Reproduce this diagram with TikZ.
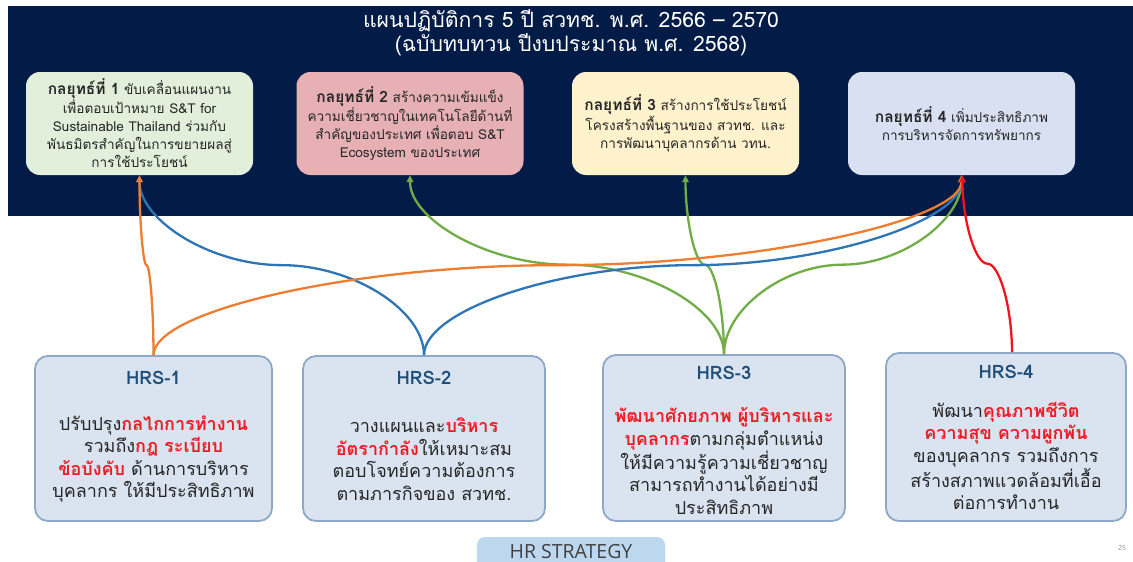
\documentclass[tikz,border=0pt]{standalone}
\usepackage{fontspec}
\newfontfamily\thaifont[Script=Thai]{Loma}
\newfontfamily\tabfont{Open Sans}
\usetikzlibrary{arrows.meta,calc}
\definecolor{navy}{HTML}{031C47}
\definecolor{sgreen}{HTML}{E2EFDA}
\definecolor{spink}{HTML}{E6B0B5}
\definecolor{scream}{HTML}{FEF2CC}
\definecolor{slav}{HTML}{D9E0F2}
\definecolor{hfill}{HTML}{DAE3F0}
\definecolor{hborder}{HTML}{8EA8C8}
\definecolor{hlabel}{HTML}{1F4E79}
\definecolor{txt}{HTML}{262626}
\definecolor{hot}{HTML}{EE1C25}
\definecolor{corange}{HTML}{ED7D31}
\definecolor{cblue}{HTML}{2E75B6}
\definecolor{cgreen}{HTML}{70AD47}
\definecolor{cred}{HTML}{F0141E}
\definecolor{tabfill}{HTML}{BDD7EE}
\newcommand{\hl}[1]{\textcolor{hot}{\bfseries #1}}
\tikzset{
  stratbox/.style={rounded corners=14pt, minimum width=227pt, minimum height=103pt, inner sep=0pt},
  strattext/.style={align=center, text=txt, font=\thaifont\fontsize{13.6}{18}\selectfont, inner sep=0pt},
  hrsbox/.style={rounded corners=13pt, fill=hfill, draw=hborder, line width=1.8pt, inner sep=0pt},
  hrslabel/.style={text=hlabel, font=\thaifont\bfseries\fontsize{18.5}{20}\selectfont, inner sep=0pt},
  hrstext/.style={align=center, text=txt, font=\thaifont\fontsize{18}{22.6}\selectfont, inner sep=0pt},
  curvecon/.style={line width=2.3pt, -{Triangle[length=7pt,width=6.5pt]},
    to path={let \p1=(\tikztostart), \p2=(\tikztotarget) in
      .. controls (\x1,{0.75*\y1+0.25*\y2}) and ({0.75*\x1+0.25*\x2},{0.5*\y1+0.5*\y2}) ..
      ({0.5*\x1+0.5*\x2},{0.5*\y1+0.5*\y2})
      .. controls ({0.25*\x1+0.75*\x2},{0.5*\y1+0.5*\y2}) and (\x2,{0.25*\y1+0.75*\y2}) .. (\tikztotarget)}}
}
\begin{document}
\begin{tikzpicture}[x=1pt,y=-1pt]
\useasboundingbox (0,0) rectangle (1133,562);
\fill[white] (0,0) rectangle (1133,562);
\fill[navy] (8,6) rectangle (1133,216);

% title
\node[align=center, text=white, font=\thaifont\fontsize{21.2}{23.5}\selectfont, inner sep=0pt] (title) at (571,33)
  {แผนปฏิบัติการ 5 ปี สวทช. พ.ศ. 2566 – 2570\\(ฉบับทบทวน ปีงบประมาณ พ.ศ. 2568)};

% strategy boxes
\node[stratbox, fill=sgreen] (s1) at (139.5,123.5) {};
\node[stratbox, fill=spink] (s2) at (410,123.5) {};
\node[stratbox, fill=scream] (s3) at (685.5,123.5) {};
\node[stratbox, fill=slav] (s4) at (961.5,123.5) {};

\node[strattext] (s1t) at (s1.center) {{\bfseries\fontsize{15.5}{18}\selectfont กลยุทธ์ที่ 1} ขับเคลื่อนแผนงาน\\เพื่อตอบเป้าหมาย S\&T for\\Sustainable Thailand ร่วมกับ\\พันธมิตรสำคัญในการขยายผลสู่\\การใช้ประโยชน์};
\node[strattext] (s2t) at (s2.center) {{\bfseries\fontsize{15.5}{18}\selectfont กลยุทธ์ที่ 2} สร้างความเข้มแข็ง\\ความเชี่ยวชาญในเทคโนโลยีด้านที่\\สำคัญของประเทศ เพื่อตอบ S\&T\\Ecosystem ของประเทศ};
\node[strattext] (s3t) at (s3.center) {{\bfseries\fontsize{15.5}{18}\selectfont กลยุทธ์ที่ 3} สร้างการใช้ประโยชน์\\โครงสร้างพื้นฐานของ สวทช. และ\\การพัฒนาบุคลากรด้าน วทน.};
\node[strattext] (s4t) at (s4.center) {{\bfseries\fontsize{15.5}{18}\selectfont กลยุทธ์ที่ 4} เพิ่มประสิทธิภาพ\\การบริหารจัดการทรัพยากร};

% HRS boxes
\node[hrsbox, minimum width=237pt, minimum height=165pt] (h1) at (153.5,438.5) {};
\node[hrsbox, minimum width=242pt, minimum height=165pt] (h2) at (424,438.5) {};
\node[hrsbox, minimum width=242pt, minimum height=166pt] (h3) at (724,438) {};
\node[hrsbox, minimum width=240pt, minimum height=168pt] (h4) at (1006,437) {};

\node[hrslabel] (h1l) at (153.5,378) {HRS-1};
\node[hrslabel] (h2l) at (424,378) {HRS-2};
\node[hrslabel] (h3l) at (724,373) {HRS-3};
\node[hrslabel] (h4l) at (1006,372) {HRS-4};

\node[hrstext] (h1b) at (153.5,459) {ปรับปรุง\hl{กลไกการทำงาน}\\รวมถึง\hl{กฎ ระเบียบ}\\\hl{ข้อบังคับ} ด้านการบริหาร\\บุคลากร ให้มีประสิทธิภาพ};
\node[hrstext] (h2b) at (424,459) {วางแผนและ\hl{บริหาร}\\\hl{อัตรากำลัง}ให้เหมาะสม\\ตอบโจทย์ความต้องการ\\ตามภารกิจของ สวทช.};
\node[hrstext] (h3b) at (724,461) {\hl{พัฒนาศักยภาพ ผู้บริหารและ}\\\hl{บุคลากร}ตามกลุ่มตำแหน่ง\\ให้มีความรู้ความเชี่ยวชาญ\\สามารถทำงานได้อย่างมี\\ประสิทธิภาพ};
\node[hrstext] (h4b) at (1006,456) {พัฒนา\hl{คุณภาพชีวิต}\\\hl{ความสุข ความผูกพัน}\\ของบุคลากร รวมถึงการ\\สร้างสภาพแวดล้อมที่เอื้อ\\ต่อการทำงาน};

% connectors
\draw[curvecon, cgreen] (h3.north) to (s2.south);
\draw[curvecon, cgreen] (h3.north) to (s3.south);
\draw[curvecon, cblue] (h2.north) to (s1.south);
\draw[curvecon, corange] (h1.north) to (s1.south);
\draw[curvecon, cgreen] (h3.north) to (s4.south);
\draw[curvecon, cblue] (h2.north) to (s4.south);
\draw[curvecon, corange] (h1.north) to (s4.south);
\draw[curvecon, cred] ([xshift=6pt]h4.north) to ([xshift=1pt]s4.south);

% HR strategy tab
\fill[tabfill, rounded corners=8pt] (477,537) rectangle (665,575);
\node[text=black!75, font=\tabfont\fontsize{19.5}{22}\selectfont, anchor=base, inner sep=0pt] (tab) at (571,558) {HR STRATEGY};
\node[text=black!45, font=\tabfont\fontsize{7}{8}\selectfont, inner sep=0pt] (pg) at (1122,548) {25};
\end{tikzpicture}
\end{document}
